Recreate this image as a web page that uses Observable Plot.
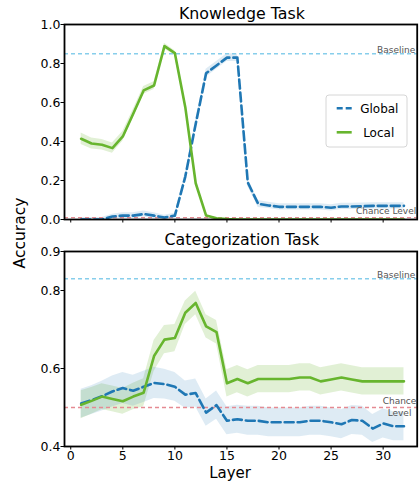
<!DOCTYPE html>
<html><head><meta charset="utf-8">
<script src="https://cdn.jsdelivr.net/npm/d3@7"></script>
<script src="https://cdn.jsdelivr.net/npm/@observablehq/plot@0.6"></script>
<style>
body{margin:0;background:#fff;font-family:"DejaVu Sans",sans-serif;}
#wrap{position:relative;width:419px;height:482px;overflow:hidden;background:#fff;}
#wrap > *{position:absolute;}
</style></head><body><div id="wrap"></div>
<script>
const layers = [1,2,3,4,5,6,7,8,9,10,11,12,13,14,15,16,17,18,19,20,21,22,23,24,25,26,27,28,29,30,31,32];
const xTicks = [0,5,10,15,20,25,30];

// Knowledge task
const knowGlobal = [0.0,0.0,0.0,0.015,0.02,0.02,0.028,0.02,0.01,0.02,0.22,0.49,0.75,0.79,0.83,0.83,0.19,0.08,0.072,0.065,0.065,0.065,0.065,0.065,0.06,0.067,0.067,0.068,0.07,0.07,0.07,0.07];
const knowGlobalErr = [0.01,0.01,0.01,0.012,0.015,0.015,0.015,0.015,0.012,0.012,0.015,0.02,0.02,0.02,0.02,0.02,0.018,0.018,0.016,0.016,0.016,0.016,0.016,0.016,0.016,0.016,0.016,0.016,0.016,0.016,0.016,0.016];
const knowLocal = [0.414,0.39,0.383,0.366,0.426,0.542,0.662,0.687,0.889,0.853,0.576,0.186,0.02,0.006,0.002,0.0,0.0,0.0,0.0,0.0,0.0,0.0,0.0,0.0,0.0,0.0,0.0,0.0,0.0,0.0,0.0,0.0];
const knowLocalErr = [0.03,0.028,0.027,0.026,0.025,0.022,0.02,0.02,0.015,0.012,0.01,0.008,0.005,0.003,0.002,0.0,0.0,0.0,0.0,0.0,0.0,0.0,0.0,0.0,0.0,0.0,0.0,0.0,0.0,0.0,0.0,0.0];
const knowYTicks = [0,0.2,0.4,0.6,0.8,1.0];
const knowBaseline = 0.85;
const knowChance = 0.01;

// Categorization task
const catGlobal = [0.51,0.519,0.529,0.541,0.55,0.543,0.553,0.563,0.56,0.553,0.533,0.537,0.487,0.506,0.466,0.47,0.466,0.466,0.462,0.462,0.462,0.462,0.466,0.466,0.462,0.457,0.468,0.466,0.446,0.459,0.452,0.452];
const catGlobalErr = [0.037,0.037,0.038,0.04,0.04,0.04,0.04,0.04,0.038,0.037,0.035,0.036,0.035,0.036,0.036,0.036,0.037,0.037,0.037,0.037,0.037,0.037,0.037,0.037,0.037,0.037,0.037,0.037,0.036,0.037,0.037,0.037];
const catLocal = [0.507,0.517,0.528,0.522,0.516,0.528,0.538,0.632,0.674,0.678,0.743,0.768,0.708,0.693,0.562,0.573,0.562,0.573,0.573,0.573,0.573,0.577,0.577,0.567,0.572,0.577,0.572,0.567,0.567,0.567,0.567,0.567];
const catLocalErr = [0.036,0.034,0.033,0.033,0.033,0.034,0.036,0.04,0.036,0.035,0.03,0.03,0.03,0.03,0.035,0.035,0.035,0.035,0.035,0.035,0.035,0.035,0.035,0.035,0.035,0.035,0.035,0.035,0.035,0.035,0.035,0.035];
const catYTicks = [0.4,0.6,0.8,0.9];
const catBaseline = 0.83;
const catChance = 0.5;

const seriesNames = ["Global","Local"];
const titles = ["Knowledge Task","Categorization Task"];
const xLabel = "Layer";
const yLabel = "Accuracy";

const BLUE = "#1f77b4", GREEN = "#67b52e";
const SKY = "#87ceeb", PINK = "#e58a92", GRAYTXT = "#555";

function rows(vals, errs) {
  return layers.map((l, i) => ({layer: l, v: vals[i], lo: vals[i] - errs[i], hi: vals[i] + errs[i]}));
}

function panel({title, g, ge, lo, le, yDomain, yTicks, baseline, chance, height, marginTop, marginBottom, showX, titleDy, twoLineChance}) {
  const G = rows(g, ge), L = rows(lo, le);
  const marks = [
    Plot.areaY(L, {x: "layer", y1: "lo", y2: "hi", fill: GREEN, fillOpacity: 0.2, clip: true}),
    Plot.areaY(G, {x: "layer", y1: "lo", y2: "hi", fill: BLUE, fillOpacity: 0.15, clip: true}),
    Plot.ruleY([baseline], {stroke: SKY, strokeWidth: 1.5, strokeDasharray: "4,3"}),
    Plot.ruleY([chance], {stroke: PINK, strokeWidth: 1.3, strokeDasharray: "4,3"}),
    Plot.lineY(G, {x: "layer", y: "v", stroke: BLUE, strokeWidth: 2.6, strokeDasharray: "9,4", clip: true}),
    Plot.lineY(L, {x: "layer", y: "v", stroke: GREEN, strokeWidth: 2.6, clip: true}),
    Plot.frame({stroke: "black", strokeWidth: 1.8}),
    Plot.axisY({ticks: yTicks, tickFormat: ".1f", tickSize: 3.5, tickPadding: 0.5, fontSize: 12.5, label: null}),
    Plot.axisX({ticks: xTicks, tickSize: 3.5, tickPadding: 1, fontSize: 12.5, label: null, tickFormat: showX ? (d => String(d)) : (() => "")}),
    Plot.text([title], {frameAnchor: "top", dy: titleDy, dx: 1, lineAnchor: "middle", fontSize: 15.8, fill: "black"}),
    Plot.text([baseline], {y: d => d, text: () => "Baseline", frameAnchor: "right", textAnchor: "end", lineAnchor: "bottom", dx: -2, dy: -0.5, fontSize: 9, fill: GRAYTXT})
  ];
  if (twoLineChance) {
    marks.push(Plot.text([chance], {y: d => d, text: () => "Chance\nLevel", frameAnchor: "right", textAnchor: "middle", lineAnchor: "middle", lineHeight: 1.33, dx: -17.7, dy: -1, fontSize: 9, fill: GRAYTXT}));
  } else {
    marks.push(Plot.text([chance], {y: d => d, text: () => "Chance Level", frameAnchor: "right", textAnchor: "end", lineAnchor: "bottom", dx: -1, dy: -3.3, fontSize: 9, fill: GRAYTXT}));
  }
  if (showX) {
    marks.push(Plot.text([xLabel], {frameAnchor: "bottom", dy: 26.8, dx: -10.8, lineAnchor: "middle", fontSize: 15, fill: "black"}));
  }
  return Plot.plot({
    width: 419, height, marginTop, marginBottom, marginLeft: 64, marginRight: 2.3,
    x: {domain: [-0.6, 33.27]},
    y: {domain: yDomain},
    style: {fontFamily: "DejaVu Sans", fontSize: "12.5px", color: "black", background: "transparent", overflow: "visible"},
    marks
  });
}

const wrap = document.getElementById("wrap");
const top1 = panel({title: titles[0], g: knowGlobal, ge: knowGlobalErr, lo: knowLocal, le: knowLocalErr,
  yDomain: [0, 1], yTicks: knowYTicks, baseline: knowBaseline, chance: knowChance,
  height: 232, marginTop: 24, marginBottom: 13, showX: false, titleDy: -10.7, twoLineChance: false});
top1.style.left = "0px"; top1.style.top = "0px";
wrap.appendChild(top1);

const bot = panel({title: titles[1], g: catGlobal, ge: catGlobalErr, lo: catLocal, le: catLocalErr,
  yDomain: [0.4, 0.9], yTicks: catYTicks, baseline: catBaseline, chance: catChance,
  height: 242, marginTop: 11, marginBottom: 36, showX: true, titleDy: -11.5, twoLineChance: true});
bot.style.left = "0px"; bot.style.top = "240px";
wrap.appendChild(bot);

// y label
const yl = document.createElement("div");
yl.textContent = yLabel;
Object.assign(yl.style, {left: "-29.7px", top: "224px", width: "100px", height: "18px", lineHeight: "18px", textAlign: "center", fontSize: "15.5px", transform: "rotate(-90deg)", transformOrigin: "50% 50%", color: "black", whiteSpace: "nowrap"});
wrap.appendChild(yl);

// legend
const leg = document.createElementNS("http://www.w3.org/2000/svg", "svg");
leg.setAttribute("width", "83"); leg.setAttribute("height", "54");
leg.style.left = "325px"; leg.style.top = "94px";
leg.innerHTML = `
<rect x="1" y="1" width="81" height="52" rx="3" fill="rgba(255,255,255,0.85)" stroke="#d6d6d6" stroke-width="1"/>
<line x1="11.7" x2="26.7" y1="14.3" y2="14.3" stroke="${BLUE}" stroke-width="2.6" stroke-dasharray="6,3"/>
<line x1="11.7" x2="26.7" y1="38.3" y2="38.3" stroke="${GREEN}" stroke-width="2.6"/>
<text x="54.3" y="18.6" text-anchor="middle" font-family="DejaVu Sans" font-size="12" fill="black">${seriesNames[0]}</text>
<text x="53.7" y="42.6" text-anchor="middle" font-family="DejaVu Sans" font-size="12" fill="black">${seriesNames[1]}</text>`;
wrap.appendChild(leg);
</script></body></html>
